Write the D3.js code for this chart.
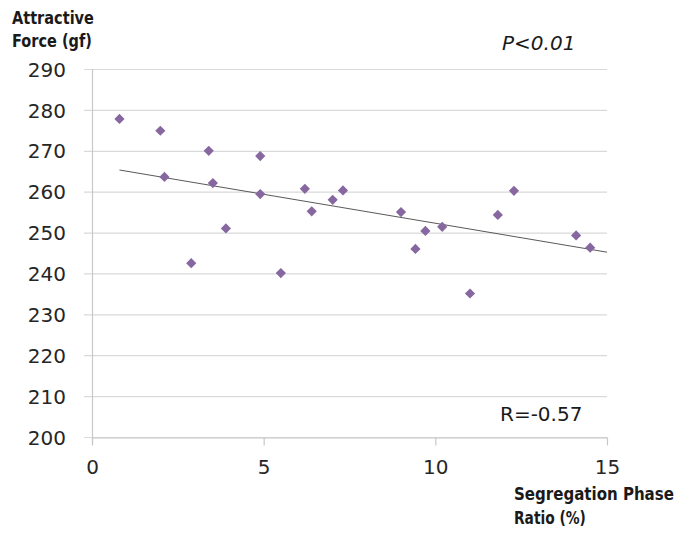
<!DOCTYPE html>
<html>
<head>
<meta charset="utf-8">
<script src="https://cdn.jsdelivr.net/npm/d3@7"></script>
<style>
  html, body { margin: 0; padding: 0; background: #fff; }
  svg { display: block; }
</style>
</head>
<body>
<svg id="chart" width="679" height="534"></svg>
<script>
// ---- data ----
const ratio = [0.80, 1.99, 2.11, 2.89, 3.40, 3.52, 3.90, 4.90, 4.90, 5.50, 6.20, 6.40, 7.01, 7.31,
               9.00, 9.42, 9.71, 10.20, 11.01, 11.82, 12.29, 14.10, 14.51];
const force = [277.8, 274.9, 263.6, 242.5, 270.0, 262.1, 251.0, 268.7, 259.4, 240.1, 260.7, 255.2, 258.0, 260.3,
               255.0, 246.0, 250.4, 251.4, 235.1, 254.3, 260.2, 249.3, 246.3];
const trendX = [0.80, 15.0];
const trendY = [265.3, 245.2];
const xTicks = [0, 5, 10, 15];
const yTicks = [200, 210, 220, 230, 240, 250, 260, 270, 280, 290];

const svg = d3.select("#chart");
const x = d3.scaleLinear().domain([0, 15]).range([92, 607]);
const y = d3.scaleLinear().domain([200, 290]).range([437, 69]);
const FONT = "'DejaVu Sans', Verdana, sans-serif";
const BOLD = "'DejaVu Sans', sans-serif";

// gridlines
svg.append("g").selectAll("line").data(yTicks).join("line")
  .attr("x1", 84).attr("x2", x(15))
  .attr("y1", d => y(d) + 0.5).attr("y2", d => y(d) + 0.5)
  .attr("stroke", "#d9d9d9").attr("stroke-width", 1.2);

// y axis line
svg.append("line")
  .attr("x1", x(0) + 0.5).attr("x2", x(0) + 0.5)
  .attr("y1", y(290)).attr("y2", y(200) + 8)
  .attr("stroke", "#c8c8c8").attr("stroke-width", 1.2);

// y axis labels
const yAxis = svg.append("g").attr("transform", "translate(66,0)")
  .call(d3.axisLeft(y).tickValues(yTicks).tickSize(0).tickPadding(0));
yAxis.select(".domain").remove();
yAxis.selectAll("text").attr("font-family", FONT).attr("font-size", 20)
  .attr("fill", "#262626").attr("dy", "0.36em");

// x axis
const xAxis = svg.append("g").attr("transform", `translate(0,${y(200) + 0.5})`)
  .call(d3.axisBottom(x).tickValues(xTicks).tickSize(8).tickSizeOuter(0).tickPadding(14));
xAxis.select(".domain").attr("stroke", "#c8c8c8").attr("stroke-width", 1.2);
xAxis.selectAll(".tick line").attr("stroke", "#c8c8c8").attr("stroke-width", 1.2);
xAxis.selectAll("text").attr("font-family", FONT).attr("font-size", 20).attr("fill", "#262626");

// trendline
svg.append("path")
  .datum(trendX.map((d, i) => [d, trendY[i]]))
  .attr("d", d3.line().x(d => x(d[0])).y(d => y(d[1])))
  .attr("fill", "none").attr("stroke", "#595959").attr("stroke-width", 1);

// points
const pts = ratio.map((d, i) => [d, force[i]]);
svg.append("g").selectAll("path").data(pts).join("path")
  .attr("d", d3.symbol(d3.symbolSquare, 52))
  .attr("transform", d => `translate(${x(d[0])},${y(d[1])}) rotate(45)`)
  .attr("fill", "#8767a0");

// titles (bold, horizontally condensed to the reference widths)
function boldLine(tx, ty, str, len) {
  const t = svg.append("text").attr("x", 0).attr("y", 0)
    .attr("font-family", BOLD).attr("font-weight", "bold").attr("font-size", 18)
    .attr("fill", "#1a1a1a").text(str);
  const natural = t.node().getComputedTextLength() || len;
  t.attr("transform", `translate(${tx},${ty}) scale(${len / natural},1)`);
}
boldLine(12, 24, "Attractive", 82);
boldLine(12, 47, "Force (gf)", 80);
boldLine(514, 500, "Segregation Phase", 160);
boldLine(514, 524, "Ratio (%)", 72);

svg.append("text").attr("x", 502).attr("y", 50)
  .attr("font-family", FONT).attr("font-style", "italic").attr("font-size", 20)
  .attr("fill", "#1a1a1a").text("P<0.01");

svg.append("text").attr("x", 500).attr("y", 421)
  .attr("font-family", FONT).attr("font-size", 20)
  .attr("fill", "#1a1a1a").text("R=-0.57");
</script>
</body>
</html>
